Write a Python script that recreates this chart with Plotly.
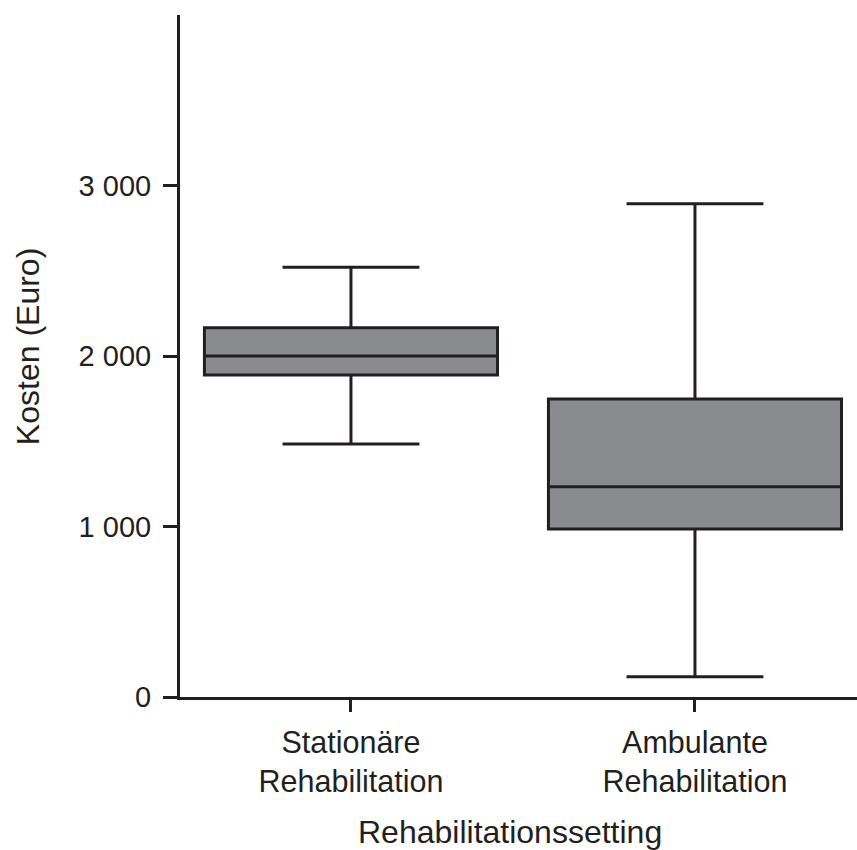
import plotly.graph_objects as go

# Rehabilitation cost summary (Euro) per setting
categories = ["Stationäre<br>Rehabilitation", "Ambulante<br>Rehabilitation"]
positions = [0, 1]
lower_whisker = [1484, 119]
q1_values = [1889, 985]
medians = [2000, 1233]
q3_values = [2166, 1748]
upper_whisker = [2520, 2893]

y_ticks = [0, 1000, 2000, 3000]
y_tick_labels = ["0", "1 000", "2 000", "3 000"]

LINE = "#231f20"
FILL = "#8a8b8f"
FAMILY = "Liberation Sans, Arial, sans-serif"
TEXT_FONT = dict(family=FAMILY, size=32, color=LINE)
CAT_FONT = dict(family=FAMILY, size=30.5, color=LINE)
NUM_FONT = dict(family=FAMILY, size=29, color=LINE)

fig = go.Figure()
for i in range(len(categories)):
    fig.add_trace(go.Box(
        x=[positions[i]],
        q1=[q1_values[i]],
        median=[medians[i]],
        q3=[q3_values[i]],
        lowerfence=[lower_whisker[i]],
        upperfence=[upper_whisker[i]],
        boxpoints=False,
        width=0.852,
        whiskerwidth=0.467,
        fillcolor=FILL,
        line=dict(color=LINE, width=3),
        showlegend=False,
        hoverinfo="skip",
    ))

fig.update_layout(
    width=857,
    height=850,
    margin=dict(l=180, r=0, t=15, b=153),
    paper_bgcolor="white",
    plot_bgcolor="white",
    font=TEXT_FONT,
    xaxis=dict(
        range=[-0.497, 1.471],
        tickmode="array",
        tickvals=positions,
        ticktext=categories,
        tickfont=CAT_FONT,
        ticks="outside",
        ticklen=12,
        tickwidth=2.5,
        tickcolor=LINE,
        showline=True,
        linecolor=LINE,
        linewidth=3,
        showgrid=False,
        zeroline=False,
        ticklabelstandoff=4,
    ),
    yaxis=dict(
        range=[0, 4000],
        tickmode="array",
        tickvals=y_ticks,
        ticktext=y_tick_labels,
        tickfont=NUM_FONT,
        ticks="outside",
        ticklen=14,
        tickwidth=3,
        tickcolor=LINE,
        showline=True,
        linecolor=LINE,
        linewidth=3,
        showgrid=False,
        zeroline=False,
        ticklabelstandoff=6,
    ),
    annotations=[
        dict(text="Kosten (Euro)", textangle=-90, xref="paper", yref="paper",
             x=(28 - 180) / 677, y=0.513, xanchor="center", yanchor="middle",
             showarrow=False, font=TEXT_FONT),
        dict(text="Rehabilitationssetting", xref="paper", yref="paper",
             x=0.487, y=(697 - 832) / 682, xanchor="center", yanchor="middle",
             showarrow=False, font=TEXT_FONT),
    ],
)

fig.write_html("out.html")
